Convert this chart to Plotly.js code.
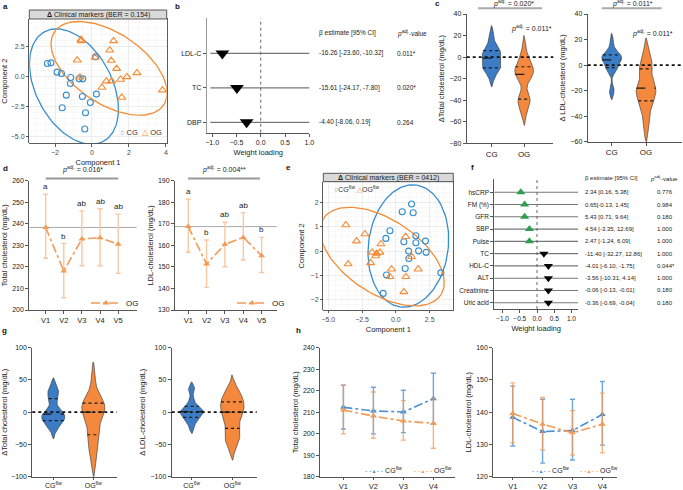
<!DOCTYPE html>
<html><head><meta charset="utf-8">
<script src="https://cdn.plot.ly/plotly-3.0.1.min.js"></script>
<style>html,body{margin:0;padding:0;background:#fff}#chart{width:683px;height:490px}</style>
</head><body><div id="chart"></div>
<script>
// ---------------- DATA ----------------
// Panel a: sPLS-DA scores (Δ clinical markers)
const aCGx = [-2.41,-2.22,-1.89,-1.65,-1.15,-1.17,-0.70,-0.50,-1.39,-1.61,-0.52,-0.09,0.24,-0.35,-0.39,0.19];
const aCGy = [1.11,1.17,0.39,0.28,-0.06,-0.56,-0.17,-0.17,-1.53,-2.58,-1.64,-2.14,-1.44,-3.00,-4.36,1.67];
const aOGx = [-0.59,-0.59,1.17,0.96,-0.80,0.17,1.04,1.33,-0.65,1.06,0.78,0.54,1.54,1.89,2.43,1.61,3.81];
const aOGy = [3.00,3.12,3.00,2.22,1.39,1.61,1.36,0.69,-0.03,-0.36,-0.36,-0.89,-0.22,0.00,0.33,-1.72,-1.11];
// Panel b: loadings
const bVars = ['LDL-C','TC','DBP'];
const bLoad = [-0.79,-0.49,-0.29];
const bBetaText = ['-16.26 [-23.60, -10.32]','-15.61 [-24.17, -7.80]','-4.40 [-8.06, 0.19]'];
const bBeta = [-16.26,-15.61,-4.40];
const bP = ['0.011*','0.020*','0.264'];
// Panel c: Δ values per participant
const groups = ['CG','OG'];
const cTC_CG  = [-20,-14,-12,-10,-10,-8,-5,-3,-1,0,2,4,6,7,9,14,22];
const cTC_OG  = [-52,-45,-42,-40,-39,-36,-20,-18,-16,-15,-14,-12,-9,-7,-5,-1,9];
const cLDL_CG = [-22,-18,-5,-4,-2,0,2,3,4,5,6,7,8,9,10,14,20];
const cLDL_OG = [-50,-44,-36,-30,-28,-26,-22,-19,-18,-18,-17,-12,-3,-2,0,3,10];
// Panel d: OG over visits
const visits5 = ['V1','V2','V3','V4','V5'];
const dTC_mean = [238.3,218.1,233.0,233.5,230.5];
const dTC_lo   = [224.0,205.7,220.5,220.5,217.0];
const dTC_hi   = [253.7,230.8,246.0,247.0,244.5];
const dTC_let  = ['a','b','ab','ab','ab'];
const dLDL_mean = [168.7,151.3,160.5,163.7,155.2];
const dLDL_lo   = [156.8,140.5,150.1,153.2,147.4];
const dLDL_hi   = [181.4,162.5,170.7,175.2,163.7];
const dLDL_let  = ['a','b','ab','ab','b'];
// Panel e: follow-up scores
const eCGx = [1.16,0.47,1.28,-0.44,-0.74,0.59,1.48,1.48,2.19,0.94,1.68,2.24,0.96,-0.69,0.69,3.33,-0.94];
const eCGy = [1.93,1.61,1.57,0.83,0.52,0.38,0.63,0.34,0.41,0.00,0.01,-0.05,-0.30,-0.98,-0.71,-0.89,-1.73];
const eOGx = [-3.70,-2.29,-2.91,-1.11,-1.75,-1.43,-1.18,-1.50,-1.87,-3.53,0.72,1.16,1.65,-0.32,-0.44,0.74,0.59];
const eOGy = [1.07,0.70,0.41,0.29,-0.05,-0.10,-0.05,-0.20,-0.48,-0.53,0.59,-0.23,-0.74,-0.74,-1.05,-1.05,-1.67];
// Panel f: loadings
const fVars = ['hsCRP','FM (%)','GFR','SBP','Pulse','TC','HDL-C','ALT','Creatinine','Uric acid'];
const fLoad = [-0.47,-0.36,-0.36,-0.22,-0.22,0.20,0.33,0.33,0.33,0.33];
const fBeta = [2.34,0.65,5.43,4.54,2.47,-11.40,-4.01,-3.56,-0.06,-0.36];
const fBetaText = ['2.34 [0.16, 5.38]','0.65[-0.13, 1.45]','5.43 [0.71, 9.64]','4.54 [-3.35, 12.69]','2.47 [-1.24, 6.09]','-11.40 [-32.27, 12.86]','-4.01 [-6.10, -1.75]','-3.56 [-10.31, 4.14]','-0.06 [-0.13, -0.01]','-0.36 [-0.69, -0.04]'];
const fP = ['0.776','0.984','0.180','1.000','1.000','1.000','0.044*','1.000','0.180','0.180'];
// Panel g: follow-up Δ values
const groupsFw = ['CG<sup>6w</sup>','OG<sup>6w</sup>'];
const gTC_CG  = [-28,-20,-16,-14,-13,-10,-6,-4,-3,-2,0,8,21,24,30,34,40];
const gTC_OG  = [-80,-62,-50,-40,-35,-25,-15,-5,0,2,5,8,14,16,20,30,55];
const gLDL_CG = [-25,-18,-12,-9,-8,-5,-2,0,1,2,3,5,9,12,20,33,38];
const gLDL_OG = [-55,-45,-40,-35,-25,-22,-10,-4,0,3,8,12,16,20,25,30,38];
// Panel h: follow-up visits
const visits4 = ['V1','V2','V3','V4'];
const hTC_CG_mean = [212.3,210.6,210.1,216.3];
const hTC_CG_lo   = [202.2,199.9,200.5,204.8];
const hTC_CG_hi   = [222.6,221.6,220.2,228.1];
const hTC_OG_mean = [211.0,208.2,205.9,204.8];
const hTC_OG_lo   = [199.9,197.9,197.0,193.2];
const hTC_OG_hi   = [222.6,219.4,215.4,216.5];
const hLDL_CG_mean = [138.4,134.0,134.3,139.3];
const hLDL_CG_lo   = [129.5,124.2,125.2,129.8];
const hLDL_CG_hi   = [148.1,144.0,144.0,149.5];
const hLDL_OG_mean = [139.6,136.3,133.6,136.3];
const hLDL_OG_lo   = [130.5,128.3,126.7,127.4];
const hLDL_OG_hi   = [149.1,144.6,140.5,145.9];

// ---------------- HELPERS ----------------
const W=683,H=490;
const FONT='Liberation Sans, Arial, sans-serif';
const BLUE_GG='#388ECC', ORANGE_GG='#F68B33';
const BLUE='#3b7cc4', ORANGE='#f4883c';
const LBLUE='#4a8fd6', LORANGE='#f39a55';
const PX=x=>x/W, PY=y=>1-y/H;
const xd=(a,b)=>[PX(a),PX(b)], yd=(t,b)=>[PY(b),PY(t)];
const HW=0.29, BWF=0.72, CUT=0.03;
// visual scale of confidence ellipses per group (style)
const ELL_A_CG=1.18, ELL_A_OG=1.06, ELL_E_CG=1.05, ELL_E_OG=1.16;

function quantile(s,p){const pos=(s.length-1)*p,lo=Math.floor(pos),hi=Math.ceil(pos);return s[lo]+(s[hi]-s[lo])*(pos-lo);}
function violin(vals,pos,color,xa,ya){
  const s=[...vals].sort((a,b)=>a-b), n=s.length;
  const mean=s.reduce((a,b)=>a+b,0)/n;
  const sd=Math.sqrt(s.reduce((a,b)=>a+(b-mean)**2,0)/(n-1));
  const q1=quantile(s,0.25), med=quantile(s,0.5), q3=quantile(s,0.75);
  const h=BWF*0.9*Math.min(sd,(q3-q1)/1.34)*Math.pow(n,-0.2);
  const dens=y=>s.reduce((a,v)=>a+Math.exp(-0.5*((y-v)/h)**2),0);
  const lo=s[0]-3*h, hi=s[n-1]+3*h, N=300;
  const ys=[],ds=[];
  for(let i=0;i<=N;i++){const y=lo+(hi-lo)*i/N; ys.push(y); ds.push(dens(y));}
  const maxd=Math.max(...ds);
  const kY=[],kD=[];
  ys.forEach((y,i)=>{if(ds[i]>=CUT*maxd){kY.push(y);kD.push(ds[i]);}});
  const px=[],py=[];
  kY.forEach((y,i)=>{px.push(pos+kD[i]/maxd*HW);py.push(y);});
  for(let i=kY.length-1;i>=0;i--){px.push(pos-kD[i]/maxd*HW);py.push(kY[i]);}
  px.push(px[0]);py.push(py[0]);
  const tr=[{type:'scatter',mode:'lines',x:px,y:py,fill:'toself',fillcolor:color,line:{color:'#333',width:0.6},xaxis:xa,yaxis:ya,hoverinfo:'skip',showlegend:false}];
  [[q1,'dot',1.1],[med,'dash',1.2],[q3,'dot',1.1]].forEach(([q,dash,w])=>{
    const hw=dens(q)/maxd*HW;
    tr.push({type:'scatter',mode:'lines',x:[pos-hw,pos+hw],y:[q,q],line:{color:'#1a1a1a',dash:dash,width:w},xaxis:xa,yaxis:ya,showlegend:false,hoverinfo:'skip'});
  });
  return tr;
}
function ellipse(xs,ys,color,xa,ya,scale){
  const n=xs.length, mx=xs.reduce((a,b)=>a+b,0)/n, my=ys.reduce((a,b)=>a+b,0)/n;
  let sxx=0,syy=0,sxy=0;
  for(let i=0;i<n;i++){sxx+=(xs[i]-mx)**2;syy+=(ys[i]-my)**2;sxy+=(xs[i]-mx)*(ys[i]-my);}
  sxx/=(n-1);syy/=(n-1);sxy/=(n-1);
  const t=Math.sqrt(5.991464547)*scale, sx=Math.sqrt(sxx), sy=Math.sqrt(syy), d=Math.acos(sxy/(sx*sy));
  const ex=[],ey=[];
  for(let k=0;k<=120;k++){const a=2*Math.PI*k/120; ex.push(mx+t*sx*Math.cos(a+d/2)); ey.push(my+t*sy*Math.cos(a-d/2));}
  return {type:'scatter',mode:'lines',x:ex,y:ey,line:{color:color,width:1.3},xaxis:xa,yaxis:ya,showlegend:false,hoverinfo:'skip'};
}
function errTrace(x,mean,lo,hi,col,ecol,xa,ya,name,leg,show){
  return {type:'scatter',mode:'lines+markers',x:x,y:mean,xaxis:xa,yaxis:ya,name:name,legend:leg,showlegend:show,
    line:{color:col,dash:'dashdot',width:1.6},marker:{symbol:'triangle-up',size:6,color:col},
    error_y:{type:'data',symmetric:false,array:hi.map((v,i)=>v-mean[i]),arrayminus:lo.map((v,i)=>mean[i]-v),color:ecol,thickness:1.4,width:2.5},hoverinfo:'skip'};
}

// ---------------- TRACES ----------------
const traces=[];
// a
traces.push(ellipse(aCGx,aCGy,BLUE_GG,'x','y',ELL_A_CG));
traces.push(ellipse(aOGx,aOGy,ORANGE_GG,'x','y',ELL_A_OG));
traces.push({type:'scatter',mode:'markers',x:aCGx,y:aCGy,xaxis:'x',yaxis:'y',marker:{symbol:'circle-open',size:6,color:BLUE_GG,line:{width:1.1}},showlegend:false});
traces.push({type:'scatter',mode:'markers',x:aOGx,y:aOGy,xaxis:'x',yaxis:'y',marker:{symbol:'triangle-up-open',size:7,color:ORANGE_GG,line:{width:1.1}},showlegend:false});
// b
traces.push({type:'scatter',mode:'markers',x:bLoad,y:bVars.map((v,i)=>i),xaxis:'x2',yaxis:'y2',
  marker:{symbol:bBeta.map(b=>b<0?'triangle-down':'triangle-up'),size:12,color:bBeta.map(b=>b<0?'#000':'#2e9e4f')},showlegend:false});
// c
traces.push(...violin(cTC_CG,0,BLUE,'x3','y3'),...violin(cTC_OG,1,ORANGE,'x3','y3'));
traces.push(...violin(cLDL_CG,0,BLUE,'x4','y4'),...violin(cLDL_OG,1,ORANGE,'x4','y4'));
// d
traces.push(errTrace(visits5,dTC_mean,dTC_lo,dTC_hi,LORANGE,'#f8c8a2','x5','y5','OG','legend',true));
traces.push(errTrace(visits5,dLDL_mean,dLDL_lo,dLDL_hi,LORANGE,'#f8c8a2','x6','y6','OG','legend2',true));
// e
traces.push(ellipse(eCGx,eCGy,BLUE_GG,'x7','y7',ELL_E_CG));
traces.push(ellipse(eOGx,eOGy,ORANGE_GG,'x7','y7',ELL_E_OG));
traces.push({type:'scatter',mode:'markers',x:eCGx,y:eCGy,xaxis:'x7',yaxis:'y7',marker:{symbol:'circle-open',size:6,color:BLUE_GG,line:{width:1.1}},showlegend:false});
traces.push({type:'scatter',mode:'markers',x:eOGx,y:eOGy,xaxis:'x7',yaxis:'y7',marker:{symbol:'triangle-up-open',size:7,color:ORANGE_GG,line:{width:1.1}},showlegend:false});
// f
traces.push({type:'scatter',mode:'markers',x:fLoad,y:fVars.map((v,i)=>i),xaxis:'x8',yaxis:'y8',
  marker:{symbol:fBeta.map(b=>b<0?'triangle-down':'triangle-up'),size:8,color:fBeta.map(b=>b<0?'#000':'#2e9e4f')},showlegend:false});
// g
traces.push(...violin(gTC_CG,0,BLUE,'x9','y9'),...violin(gTC_OG,1,ORANGE,'x9','y9'));
traces.push(...violin(gLDL_CG,0,BLUE,'x10','y10'),...violin(gLDL_OG,1,ORANGE,'x10','y10'));
// h
traces.push(errTrace(visits4,hTC_CG_mean,hTC_CG_lo,hTC_CG_hi,LBLUE,'rgba(74,143,214,0.8)','x11','y11','CG<sup>6w</sup>','legend',false));
traces.push(errTrace(visits4,hTC_OG_mean,hTC_OG_lo,hTC_OG_hi,LORANGE,'rgba(243,154,85,0.75)','x11','y11','OG<sup>6w</sup>','legend',false));
traces.push(errTrace(visits4,hLDL_CG_mean,hLDL_CG_lo,hLDL_CG_hi,LBLUE,'rgba(74,143,214,0.8)','x12','y12','CG<sup>6w</sup>','legend',false));
traces.push(errTrace(visits4,hLDL_OG_mean,hLDL_OG_lo,hLDL_OG_hi,LORANGE,'rgba(243,154,85,0.75)','x12','y12','OG<sup>6w</sup>','legend',false));

// ---------------- AXES ----------------
function gp(extra){return Object.assign({showline:true,linecolor:'#555',linewidth:1,ticks:'outside',ticklen:3,tickwidth:1,tickcolor:'#555',showgrid:false,zeroline:false,tickfont:{size:7,color:'#222'},fixedrange:true},extra);}
function gg(extra){return Object.assign({showline:true,mirror:true,linecolor:'#333',linewidth:0.8,ticks:'outside',ticklen:2.5,tickwidth:0.8,tickcolor:'#333',showgrid:true,gridcolor:'#e6e6e6',gridwidth:0.7,zeroline:false,tickfont:{size:7,color:'#4d4d4d'},minor:{showgrid:true,gridcolor:'#f3f3f3',gridwidth:0.5},fixedrange:true},extra);}
const ttl=(t,s)=>({text:t,font:{size:s||7.5,color:'#222'},standoff:s?4:3});

const layout={
  width:W,height:H,margin:{l:0,r:0,t:0,b:0},paper_bgcolor:'#fff',plot_bgcolor:'rgba(0,0,0,0)',
  font:{family:FONT,color:'#222'},hovermode:false,showlegend:true,
  xaxis:gg({domain:xd(29.3,166.7),anchor:'y',range:[-3.39,4.04],dtick:2,tick0:0,title:ttl('Component 1',7.5)}),
  yaxis:gg({domain:yd(19,143.3),anchor:'x',range:[-5.55,4.83],dtick:2.5,tick0:0,tickformat:'.1f',title:ttl('Component 2',7.5)}),
  xaxis2:gp({domain:xd(207.3,309.3),anchor:'y2',range:[-1.1,1.0],dtick:0.5,tick0:0,tickformat:'.1f',title:ttl('Weight loading',7.5)}),
  yaxis2:gp({domain:yd(18.3,132.7),anchor:'x2',range:[2.3,-1.02],tickvals:bVars.map((v,i)=>i),ticktext:bVars,linecolor:'#999',linewidth:1.5,tickfont:{size:7,color:'#222'}}),
  xaxis3:gp({domain:xd(466.7,553.3),anchor:'y3',range:[-0.77,1.9],tickvals:[0,1],ticktext:groups,tickfont:{size:8,color:'#222'}}),
  yaxis3:gp({domain:yd(14,143.3),anchor:'x3',range:[-80,40],dtick:20,title:ttl('ΔTotal cholesterol (mg/dL)')}),
  xaxis4:gp({domain:xd(587.7,681.7),anchor:'y4',range:[-0.70,2.04],tickvals:[0,1],ticktext:groups,tickfont:{size:8,color:'#222'}}),
  yaxis4:gp({domain:yd(14,141.7),anchor:'x4',range:[-60,40],dtick:20,title:ttl('Δ LDL-cholesterol (mg/dL)')}),
  xaxis5:gp({domain:xd(29.3,136.7),anchor:'y5',type:'category',categoryarray:visits5,range:[-0.9,5.02],tickfont:{size:7.5,color:'#222'}}),
  yaxis5:gp({domain:yd(180.7,310),anchor:'x5',range:[200,260],dtick:10,title:ttl('Total cholesterol (mg/dL)')}),
  xaxis6:gp({domain:xd(175,276.7),anchor:'y6',type:'category',categoryarray:visits5,range:[-0.72,4.82],tickfont:{size:7.5,color:'#222'}}),
  yaxis6:gp({domain:yd(180.7,310),anchor:'x6',range:[130,190],dtick:10,title:ttl('LDL-cholesterol (mg/dL)')}),
  xaxis7:gg({domain:xd(323.3,453.3),anchor:'y7',range:[-5.37,4.25],dtick:2.5,tick0:0,tickformat:'.1f',title:ttl('Component 1',7.5)}),
  yaxis7:gg({domain:yd(181.7,310),anchor:'x7',range:[-2.41,2.84],dtick:1,tick0:0,title:ttl('Component 2',7.5)}),
  xaxis8:gp({domain:xd(494.3,578),anchor:'y8',range:[-1.24,1.19],dtick:0.5,tick0:0,tickformat:'.1f',tickfont:{size:6.5,color:'#222'},title:ttl('Weight loading',7.5)}),
  yaxis8:gp({domain:yd(179,309),anchor:'x8',range:[9.51,-1.08],tickvals:fVars.map((v,i)=>i),ticktext:fVars,tickfont:{size:6.5,color:'#222'}}),
  xaxis9:gp({domain:xd(32.3,116.7),anchor:'y9',range:[-0.525,1.585],tickvals:[0,1],ticktext:groupsFw,ticklen:2,tickfont:{size:7,color:'#222'}}),
  yaxis9:gp({domain:yd(347.7,476.7),anchor:'x9',range:[-100,100],dtick:50,title:ttl('ΔTotal cholesterol (mg/dL)')}),
  xaxis10:gp({domain:xd(171.7,256.7),anchor:'y10',range:[-0.49,1.6],tickvals:[0,1],ticktext:groupsFw,ticklen:2,tickfont:{size:7,color:'#222'}}),
  yaxis10:gp({domain:yd(347.7,476.7),anchor:'x10',range:[-100,100],dtick:50,title:ttl('Δ LDL-cholesterol (mg/dL)')}),
  xaxis11:gp({domain:xd(320,455),anchor:'y11',type:'category',categoryarray:visits4,range:[-0.78,3.72],ticklen:2,tickfont:{size:7.5,color:'#222'}}),
  yaxis11:gp({domain:yd(347.7,476.7),anchor:'x11',range:[180,240],dtick:10,title:ttl('Total cholesterol (mg/dL)')}),
  xaxis12:gp({domain:xd(493.3,616.7),anchor:'y12',type:'category',categoryarray:visits4,range:[-0.65,3.48],ticklen:2,tickfont:{size:7.5,color:'#222'}}),
  yaxis12:gp({domain:yd(347.7,476.7),anchor:'x12',range:[120,160],dtick:10,title:ttl('LDL-cholesterol (mg/dL)')}),
  legend:{x:PX(86),y:PY(303),xanchor:'left',yanchor:'middle',bgcolor:'rgba(0,0,0,0)',font:{size:8},itemwidth:30},
  legend2:{x:PX(232),y:PY(303),xanchor:'left',yanchor:'middle',bgcolor:'rgba(0,0,0,0)',font:{size:8},itemwidth:30},
  shapes:[],annotations:[]
};
const S=layout.shapes, A=layout.annotations;
const txt=(x,y,text,o)=>Object.assign({xref:'paper',yref:'paper',x:PX(x),y:PY(y),text:text,showarrow:false,font:{size:7,color:'#222'},xanchor:'center',yanchor:'middle'},o||{});
const pline=(x0,x1,y,col,w)=>({type:'line',xref:'paper',yref:'paper',x0:PX(x0),x1:PX(x1),y0:PY(y),y1:PY(y),line:{color:col,width:w}});

// strips
[[29.3,166.7,10,19,'<b>Δ</b> Clinical markers (BER = 0.154)'],[323.3,453.3,173.3,181.7,'<b>Δ</b> Clinical markers (BER = 0412)']].forEach(([x0,x1,y0,y1,t])=>{
  S.push({type:'rect',xref:'paper',yref:'paper',x0:PX(x0),x1:PX(x1),y0:PY(y1),y1:PY(y0),fillcolor:'#d9d9d9',line:{color:'#333',width:0.8},layer:'above'});
  A.push(txt((x0+x1)/2,(y0+y1)/2,t,{font:{size:7,color:'#1a1a1a'}}));
});
// legends for a and e
A.push(txt(118,133,"<span style='color:#388ECC'>○</span> CG  <span style='color:#F68B33'>△</span> OG",{xanchor:'left',font:{size:7.5,color:'#333'}}));
A.push(txt(332,189,"<span style='color:#388ECC'>○</span>CG<sup>6w</sup> <span style='color:#F68B33'>△</span>OG<sup>6w</sup>",{xanchor:'left',font:{size:7,color:'#333'}}));
// legends for h
const lg=(col)=>"<span style='color:"+col+"'>- -<span style='font-size:5px'>▲</span>- -</span>";
A.push(txt(363,470,lg(LBLUE)+' CG<sup>6w</sup>',{xanchor:'left',font:{size:7,color:'#222'}}));
A.push(txt(412,470,lg(LORANGE)+' OG<sup>6w</sup>',{xanchor:'left',font:{size:7,color:'#222'}}));
A.push(txt(530,470,lg(LBLUE)+' CG<sup>6w</sup>',{xanchor:'left',font:{size:7,color:'#222'}}));
A.push(txt(578,470,lg(LORANGE)+' OG<sup>6w</sup>',{xanchor:'left',font:{size:7,color:'#222'}}));
// b / f reference lines
bVars.forEach((v,i)=>S.push({type:'line',xref:'x2 domain',yref:'y2',x0:0.03,x1:1,y0:i,y1:i,line:{color:'#777',width:1.2},layer:'below'}));
S.push({type:'line',xref:'x2',yref:'y2 domain',x0:0,x1:0,y0:0,y1:1,line:{color:'#666',width:1,dash:'dot'}});
fVars.forEach((v,i)=>S.push({type:'line',xref:'x8 domain',yref:'y8',x0:0,x1:1,y0:i,y1:i,line:{color:'#777',width:1.1},layer:'below'}));
S.push({type:'line',xref:'x8',yref:'y8 domain',x0:0,x1:0,y0:0,y1:1,line:{color:'#666',width:1,dash:'dot'}});
// b table
A.push(txt(317,33,'β estimate [95% CI]',{xanchor:'left',font:{size:6.5,color:'#222'}}));
A.push(txt(395,33,'<i>p</i><sup>adj.</sup>-value',{xanchor:'left',font:{size:6.5,color:'#222'}}));
bVars.forEach((v,i)=>{
  A.push({xref:'paper',yref:'y2',x:PX(317),y:i,text:bBetaText[i],showarrow:false,xanchor:'left',yanchor:'middle',font:{size:6.5,color:'#222'}});
  A.push({xref:'paper',yref:'y2',x:PX(395),y:i,text:bP[i],showarrow:false,xanchor:'left',yanchor:'middle',font:{size:6.5,color:'#222'}});
});
// f table
A.push(txt(583,178,'β estimate [95% CI]',{xanchor:'left',font:{size:6,color:'#222'}}));
A.push(txt(648,178,'<i>p</i><sup>adj.</sup>-value',{xanchor:'left',font:{size:6,color:'#222'}}));
fVars.forEach((v,i)=>{
  A.push({xref:'paper',yref:'y8',x:PX(583),y:i,text:fBetaText[i],showarrow:false,xanchor:'left',yanchor:'middle',font:{size:6,color:'#222'}});
  A.push({xref:'paper',yref:'y8',x:PX(655),y:i,text:fP[i],showarrow:false,xanchor:'left',yanchor:'middle',font:{size:6,color:'#222'}});
});
// zero lines for violins
['3','4','9','10'].forEach(k=>S.push({type:'line',xref:'x'+k+' domain',yref:'y'+k,x0:0,x1:1,y0:0,y1:0,line:{color:'#111',width:1.8,dash:'dot'},layer:'above'}));
// c brackets and p-values
S.push(pline(478,542,8.3,'#aaa',2)); S.push(pline(601.7,661.7,8.3,'#aaa',2));
const padj=v=>'<i>p</i><sup>adj.</sup> = '+v;
A.push(txt(513,3.5,padj('0.020*')));
A.push(txt(632,3.5,padj('0.011*')));
A.push(txt(509,28.5,padj('0.011*'),{xanchor:'left'}));
A.push(txt(630,33.5,padj('0.011*'),{xanchor:'left'}));
// d brackets, baselines, letters
S.push(pline(45.7,118.3,178.5,'#999',2)); S.push(pline(188,260,178.5,'#999',2));
A.push(txt(82,169,padj('0.016*')));
A.push(txt(224,169,padj('0.004**')));
S.push({type:'line',xref:'x5 domain',yref:'y5',x0:0,x1:1,y0:dTC_mean[0],y1:dTC_mean[0],line:{color:'#aaa',width:1},layer:'below'});
S.push({type:'line',xref:'x6 domain',yref:'y6',x0:0,x1:1,y0:dLDL_mean[0],y1:dLDL_mean[0],line:{color:'#aaa',width:1},layer:'below'});
visits5.forEach((v,i)=>{
  A.push({xref:'x5',yref:'y5',x:v,y:dTC_hi[i],text:dTC_let[i],showarrow:false,yanchor:'bottom',yshift:1,font:{size:8,color:'#222'}});
  A.push({xref:'x6',yref:'y6',x:v,y:dLDL_hi[i],text:dLDL_let[i],showarrow:false,yanchor:'bottom',yshift:1,font:{size:8,color:'#222'}});
});
// panel letters
[['a',5,6],['b',177,6],['c',437,4],['d',5,168],['e',288,167],['f',472,167],['g',4,330],['h',298,330]].forEach(([l,x,y])=>A.push(txt(x,y,'<b>'+l+'</b>',{font:{size:8,color:'#111'}})));

Plotly.newPlot('chart',traces,layout,{displayModeBar:false,staticPlot:true});
</script></body></html>
